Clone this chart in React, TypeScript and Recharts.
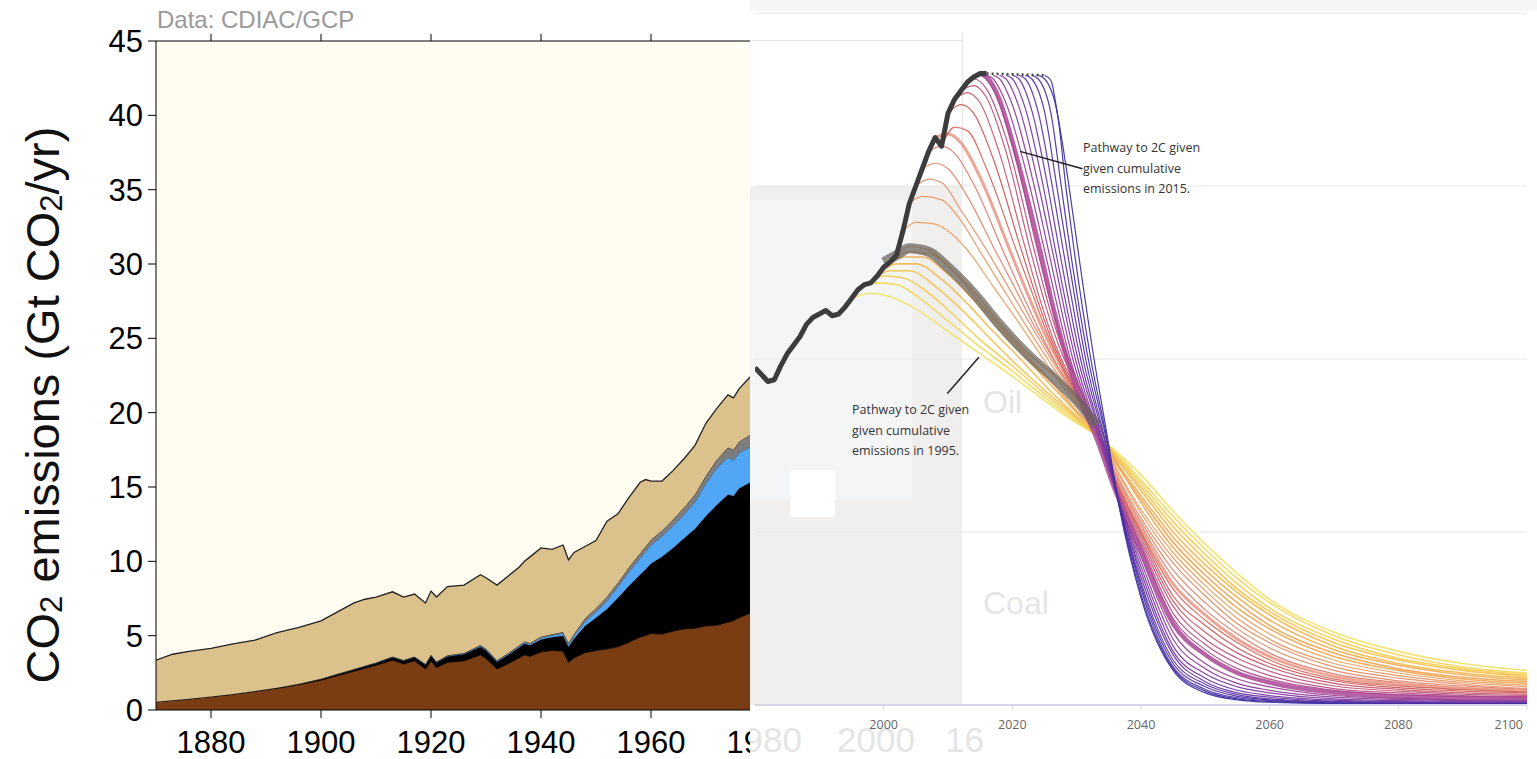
import React from 'react';
import {
  AreaChart,
  Area,
  LineChart,
  Line,
  XAxis,
  YAxis,
  CartesianGrid,
  ReferenceLine,
  Label,
} from 'recharts';

// ---- left panel: CO2 emissions by source (Gt CO2/yr), CDIAC/GCP ----
const years = [
  1870, 1873, 1876, 1880, 1884, 1888, 1892, 1896, 1900, 1903, 1906, 1908, 1910,
  1913, 1915, 1917, 1919, 1920, 1921, 1923, 1926, 1929, 1930, 1932, 1934, 1936,
  1937, 1938, 1940, 1942, 1944, 1945, 1946, 1948, 1950, 1952, 1954, 1956, 1958,
  1959, 1960, 1962, 1964, 1966, 1968, 1970, 1972, 1974, 1975, 1976, 1978, 1980,
];
const coal = [
  0.55, 0.65, 0.75, 0.9, 1.05, 1.25, 1.45, 1.7, 2.0, 2.3, 2.6, 2.8, 3.0, 3.35,
  3.1, 3.3, 2.75, 3.3, 2.85, 3.2, 3.3, 3.7, 3.45, 2.75, 3.1, 3.5, 3.7, 3.6, 3.9,
  4.0, 3.95, 3.2, 3.5, 3.85, 4.0, 4.1, 4.25, 4.55, 4.9, 5.0, 5.15, 5.1, 5.3,
  5.45, 5.5, 5.65, 5.7, 5.9, 6.0, 6.2, 6.5, 6.8,
];
const oil = [
  0, 0, 0, 0.01, 0.02, 0.03, 0.04, 0.05, 0.08, 0.1, 0.12, 0.14, 0.15, 0.2, 0.22,
  0.25, 0.3, 0.35, 0.35, 0.4, 0.45, 0.55, 0.55, 0.5, 0.6, 0.7, 0.75, 0.75, 0.85,
  0.9, 1.05, 1.05, 1.3, 1.8, 2.2, 2.7, 3.3, 3.8, 4.2, 4.45, 4.7, 5.2, 5.6, 6.1,
  6.7, 7.4, 8.1, 8.6, 8.4, 8.7, 8.8, 8.9,
];
const gas = [
  0, 0, 0, 0, 0, 0, 0, 0, 0.01, 0.01, 0.01, 0.02, 0.02, 0.02, 0.02, 0.02, 0.02,
  0.03, 0.03, 0.04, 0.05, 0.07, 0.07, 0.06, 0.07, 0.08, 0.09, 0.09, 0.1, 0.12,
  0.15, 0.15, 0.2, 0.3, 0.4, 0.55, 0.75, 0.95, 1.1, 1.2, 1.25, 1.4, 1.5, 1.6,
  1.8, 2.2, 2.5, 2.5, 2.4, 2.4, 2.4, 2.5,
];
const flaring = [
  0, 0, 0, 0, 0, 0, 0.01, 0.01, 0.01, 0.02, 0.02, 0.02, 0.02, 0.03, 0.03, 0.03,
  0.03, 0.03, 0.03, 0.04, 0.04, 0.05, 0.05, 0.04, 0.05, 0.06, 0.07, 0.07, 0.08,
  0.08, 0.1, 0.1, 0.12, 0.2, 0.25, 0.27, 0.28, 0.3, 0.32, 0.33, 0.35, 0.38, 0.42,
  0.45, 0.5, 0.5, 0.55, 0.65, 0.7, 0.75, 0.8, 0.85,
];
const landUse = [
  2.8, 3.1, 3.2, 3.24, 3.38, 3.42, 3.7, 3.79, 3.9, 4.17, 4.45, 4.47, 4.41, 4.35,
  4.23, 4.2, 4.1, 4.29, 4.34, 4.62, 4.56, 4.73, 4.78, 5.05, 5.18, 5.26, 5.39,
  5.79, 5.97, 5.7, 5.85, 5.6, 5.48, 4.85, 4.55, 5.08, 4.62, 4.7, 4.78, 4.52,
  3.95, 3.32, 3.28, 3.3, 3.3, 3.55, 3.45, 3.55, 3.5, 3.55, 3.9, 3.95,
];
const leftTicks = [1880, 1900, 1920, 1940, 1960, 1980, 2000];
const leftYTicks = [0, 5, 10, 15, 20, 25, 30, 35, 40, 45];

// ---- right panel: fossil CO2 and 2C pathways (Gt CO2/yr) ----
const histYears = [
  1980, 1981, 1982, 1983, 1984, 1985, 1986, 1987, 1988, 1989, 1990, 1991, 1992,
  1993, 1994, 1995, 1996, 1997, 1998, 1999, 2000, 2001, 2002, 2003, 2004, 2005,
  2006, 2007, 2008, 2009, 2010, 2011, 2012, 2013, 2014, 2015, 2016,
];
const histValues = [
  19.5, 19.1, 18.7, 18.8, 19.6, 20.3, 20.8, 21.3, 22.0, 22.4, 22.6, 22.8, 22.5,
  22.6, 23.0, 23.5, 24.0, 24.3, 24.4, 24.8, 25.3, 25.6, 26.0, 27.4, 29.0, 30.0,
  31.0, 32.0, 32.8, 32.3, 34.2, 35.0, 35.5, 36.0, 36.3, 36.5, 36.5,
];
const plateauYears = [2016, 2025];
const plateauValues = [36.5, 36.4];

const pathwayStarts = [
  1995, 1996, 1997, 1998, 1999, 2000, 2001, 2002, 2003, 2004, 2005, 2006, 2007,
  2008, 2009, 2010, 2011, 2012, 2013, 2014, 2015, 2016, 2017, 2018, 2019, 2020,
  2021, 2022, 2023, 2024, 2025,
];

// each pathway until 2036, as [year, value]
const pathwayEarly: number[][][] = [
  [[1995, 23.5], [1998, 23.8], [2001, 23.6], [2005, 22.9], [2010, 21.6], [2015, 20.3], [2020, 19.0], [2025, 17.6], [2030, 16.3], [2033, 15.6], [2036, 14.7]],
  [[1996, 24.0], [1999, 24.4], [2002, 24.3], [2006, 23.4], [2010, 22.2], [2015, 20.7], [2020, 19.3], [2025, 17.8], [2030, 16.4], [2033, 15.6], [2036, 14.6]],
  [[1997, 24.3], [2000, 24.8], [2003, 24.7], [2007, 23.8], [2011, 22.5], [2015, 21.1], [2020, 19.6], [2025, 18.0], [2030, 16.5], [2033, 15.6], [2036, 14.5]],
  [[1998, 24.4], [2001, 25.1], [2004, 25.1], [2008, 24.2], [2012, 22.9], [2016, 21.4], [2020, 19.9], [2025, 18.2], [2030, 16.6], [2033, 15.6], [2036, 14.4]],
  [[1999, 24.8], [2002, 25.5], [2005, 25.5], [2009, 24.6], [2013, 23.2], [2017, 21.6], [2021, 20.1], [2025, 18.5], [2030, 16.7], [2033, 15.7], [2036, 14.3]],
  [[2000, 25.3], [2003, 25.9], [2006, 25.9], [2010, 24.9], [2014, 23.4], [2018, 21.7], [2022, 20.1], [2026, 18.5], [2030, 16.9], [2033, 15.7], [2036, 14.1]],
  [[2001, 25.6], [2004, 26.2], [2007, 26.1], [2011, 25.0], [2015, 23.2], [2019, 21.5], [2023, 19.9], [2027, 18.3], [2030, 17.0], [2033, 15.8], [2036, 14.0]],
  [[2002, 26.0], [2004, 26.5], [2007, 26.3], [2010, 25.4], [2014, 23.9], [2018, 22.1], [2022, 20.5], [2027, 18.9], [2030, 17.8], [2033, 16.5], [2036, 14.2]],
  [[2003, 27.4], [2005, 27.9], [2008, 27.8], [2010, 27.4], [2013, 26.3], [2017, 24.2], [2021, 22.1], [2025, 19.9], [2029, 17.8], [2033, 15.9], [2036, 13.8]],
  [[2004, 29.0], [2006, 29.4], [2009, 29.2], [2012, 28.0], [2015, 26.2], [2018, 24.4], [2022, 22.0], [2025.5, 20.0], [2029, 18.0], [2033, 15.9], [2036, 13.7]],
  [[2005, 30.0], [2007, 30.4], [2009, 30.2], [2012, 28.6], [2016, 26.3], [2019, 24.4], [2022, 22.5], [2026, 20.0], [2029, 18.2], [2033, 15.9], [2036, 13.5]],
  [[2006, 31.0], [2008, 31.3], [2010, 31.0], [2013, 29.4], [2017.3, 26.3], [2020, 24.4], [2023, 22.2], [2026.5, 19.9], [2030, 17.8], [2033, 16.0], [2036, 13.4]],
  [[2007, 32.0], [2009, 32.3], [2011, 31.9], [2014, 30.1], [2018.5, 26.3], [2021, 24.2], [2024, 21.8], [2027, 19.6], [2030, 17.8], [2033, 16.0], [2036, 13.3]],
  [[2008, 32.8], [2010, 33.0], [2012, 32.5], [2015, 30.5], [2019.6, 26.3], [2022, 24.1], [2025, 21.5], [2027.5, 19.6], [2030, 17.9], [2033, 16.0], [2036, 13.2]],
  [[2009, 32.3], [2011, 33.4], [2013, 33.2], [2016, 31.0], [2020.6, 26.3], [2023, 23.9], [2025.5, 21.4], [2028, 19.3], [2030.5, 17.6], [2033, 16.1], [2036, 13.1]],
  [[2010, 34.2], [2012, 34.7], [2014, 34.2], [2017, 31.6], [2021.4, 26.3], [2024, 23.3], [2026, 21.2], [2028, 19.5], [2030.5, 17.7], [2033, 16.1], [2036, 13.0]],
  [[2011, 35.0], [2013, 35.4], [2015, 34.8], [2018, 31.9], [2022.1, 26.3], [2024.5, 23.2], [2026.5, 21.0], [2028.5, 19.3], [2031, 17.4], [2033, 16.2], [2036, 12.9]],
  [[2012, 35.5], [2014, 35.8], [2016, 35.1], [2019, 32.0], [2022.8, 26.3], [2025, 23.3], [2027, 21.0], [2029, 19.2], [2031, 17.5], [2033, 16.2], [2036, 12.8]],
  [[2013, 36.0], [2014, 36.2], [2016, 35.6], [2019, 32.8], [2023.4, 26.3], [2025.5, 23.3], [2027.5, 20.9], [2029.5, 19.1], [2031.5, 17.3], [2033, 16.2], [2036, 12.7]],
  [[2014, 36.3], [2015, 36.4], [2017, 35.6], [2020, 32.4], [2023.9, 26.3], [2026, 23.2], [2028, 20.7], [2030, 18.8], [2033, 16.0], [2036, 12.6]],
  [[2015, 36.5], [2016, 36.3], [2018, 35.0], [2020, 32.6], [2022, 29.8], [2024.3, 26.3], [2026.4, 22.9], [2028.5, 20.0], [2030.5, 17.7], [2033, 15.5], [2036, 12.4]],
  [[2016, 36.4], [2017, 36.2], [2019, 34.8], [2022.7, 30.0], [2025.0, 26.3], [2029.0, 20.0], [2033.7, 15.0], [2036, 12.4]],
  [[2017, 36.4], [2018, 36.2], [2020, 34.7], [2023.4, 30.0], [2025.6, 26.3], [2029.4, 20.0], [2033.9, 15.0], [2036, 12.5]],
  [[2018, 36.4], [2019, 36.2], [2021, 34.6], [2024.1, 30.0], [2026.2, 26.3], [2029.8, 20.0], [2034.0, 15.0], [2036, 12.5]],
  [[2019, 36.4], [2020, 36.2], [2022, 34.5], [2024.8, 30.0], [2026.7, 26.3], [2030.2, 20.0], [2034.2, 15.0], [2036, 12.5]],
  [[2020, 36.4], [2021, 36.2], [2023, 34.4], [2025.5, 30.0], [2027.3, 26.3], [2030.6, 20.0], [2034.3, 15.0], [2036, 12.6]],
  [[2021, 36.4], [2022, 36.2], [2024, 34.3], [2026.2, 30.0], [2027.9, 26.3], [2031.0, 20.0], [2034.5, 15.0], [2036, 12.6]],
  [[2022, 36.4], [2023, 36.2], [2025, 34.3], [2026.9, 30.0], [2028.5, 26.3], [2031.4, 20.0], [2034.6, 15.0], [2036, 12.6]],
  [[2023, 36.4], [2024, 36.2], [2026, 34.2], [2027.6, 30.0], [2029.0, 26.3], [2031.8, 20.0], [2034.8, 15.0], [2036, 12.7]],
  [[2024, 36.4], [2025, 36.2], [2027, 34.2], [2028.3, 30.0], [2029.6, 26.3], [2032.2, 20.0], [2034.9, 15.0], [2036, 12.7]],
  [[2025, 36.4], [2026, 36.1], [2027, 34.2], [2028.8, 30.0], [2030.2, 26.3], [2032.7, 20.0], [2035.0, 15.0], [2036, 12.7]],
];

const tailYears = [2040, 2045, 2050, 2055, 2060, 2070, 2080, 2090, 2100];
const pathwayTails = [
  [13.3, 11.2, 9.3, 7.6, 6.1, 4.2, 3.1, 2.4, 2.0],
  [13.0, 10.9, 9.0, 7.3, 5.9, 4.0, 2.9, 2.2, 1.85],
  [12.8, 10.6, 8.7, 7.0, 5.6, 3.8, 2.7, 2.1, 1.75],
  [12.6, 10.3, 8.4, 6.7, 5.4, 3.6, 2.6, 2.0, 1.65],
  [12.4, 10.0, 8.1, 6.5, 5.2, 3.4, 2.4, 1.85, 1.55],
  [12.1, 9.7, 7.8, 6.2, 4.9, 3.2, 2.3, 1.75, 1.45],
  [11.9, 9.4, 7.5, 5.9, 4.6, 3.0, 2.1, 1.6, 1.35],
  [11.7, 9.1, 7.2, 5.6, 4.4, 2.8, 2.0, 1.5, 1.25],
  [11.3, 8.8, 6.9, 5.3, 4.1, 2.6, 1.85, 1.4, 1.15],
  [11.1, 8.5, 6.6, 5.0, 3.8, 2.4, 1.7, 1.3, 1.05],
  [10.8, 8.2, 6.3, 4.7, 3.6, 2.2, 1.55, 1.2, 0.95],
  [10.6, 7.8, 5.9, 4.4, 3.3, 2.0, 1.4, 1.1, 0.9],
  [10.4, 7.4, 5.5, 4.1, 3.0, 1.8, 1.3, 1.0, 0.85],
  [10.2, 7.0, 5.2, 3.8, 2.8, 1.65, 1.2, 0.95, 0.8],
  [10.0, 6.7, 4.9, 3.6, 2.6, 1.5, 1.1, 0.9, 0.75],
  [9.9, 6.3, 4.6, 3.3, 2.4, 1.4, 1.0, 0.8, 0.7],
  [9.7, 6.0, 4.2, 3.0, 2.2, 1.25, 0.9, 0.7, 0.62],
  [9.5, 5.7, 3.8, 2.7, 1.95, 1.1, 0.8, 0.62, 0.55],
  [9.3, 5.3, 3.5, 2.4, 1.7, 0.95, 0.7, 0.55, 0.48],
  [9.1, 5.0, 3.2, 2.1, 1.5, 0.85, 0.6, 0.48, 0.42],
  [8.9, 4.7, 2.9, 1.85, 1.3, 0.72, 0.5, 0.4, 0.34],
  [8.6, 4.2, 2.4, 1.5, 1.05, 0.55, 0.4, 0.3, 0.28],
  [8.3, 3.8, 2.1, 1.25, 0.85, 0.45, 0.32, 0.25, 0.22],
  [8.0, 3.4, 1.8, 1.05, 0.7, 0.35, 0.25, 0.2, 0.18],
  [7.7, 3.1, 1.55, 0.85, 0.55, 0.28, 0.2, 0.16, 0.15],
  [7.4, 2.9, 1.35, 0.7, 0.45, 0.22, 0.16, 0.13, 0.12],
  [7.1, 2.6, 1.2, 0.6, 0.35, 0.18, 0.13, 0.1, 0.1],
  [6.9, 2.4, 1.05, 0.5, 0.3, 0.15, 0.1, 0.08, 0.08],
  [6.7, 2.2, 0.9, 0.42, 0.25, 0.12, 0.08, 0.07, 0.07],
  [6.4, 2.1, 0.8, 0.35, 0.2, 0.1, 0.07, 0.06, 0.06],
  [6.2, 2.0, 0.7, 0.3, 0.16, 0.08, 0.06, 0.05, 0.05],
];
// the 1995-emissions pathway is highlighted by a grey band up to the crossing
const bandYears = [2000, 2002, 2004, 2007, 2010, 2014, 2018, 2022, 2027, 2030, 2033];
const bandValues = [25.6, 26.0, 26.4, 26.2, 25.3, 23.8, 22.0, 20.4, 18.7, 17.6, 16.2];

const rightTicks = [1980, 2000, 2020, 2040, 2060, 2080, 2100];
const gridValues = [10, 20, 30, 40];

// line colours, yellow (early start) to indigo (late start)
const pathwayColors = [
  '#f2e36a', '#f3d95f', '#f4cf58', '#f5c553', '#f4bb54', '#f2b157', '#efa85b',
  '#eeac5c', '#eca060', '#e99763', '#e58e66', '#e1866a', '#dd7d6d', '#ec9a88',
  '#d46a5e', '#cc5a58', '#c9596e', '#c15478', '#b84f83', '#af4a8c', '#a94694',
  '#9b4199', '#8e3e9d', '#823ba0', '#7639a3', '#6b37a5', '#6035a6', '#5634a6',
  '#4d33a5', '#4532a3', '#3e31a0',
];

const leftData = years.map((year, i) => ({
  year,
  coal: coal[i],
  oil: oil[i],
  gas: gas[i],
  flaring: flaring[i],
  landUse: landUse[i],
}));

const histData = histYears.map((year, i) => ({ year, v: histValues[i] }));
const plateauData = plateauYears.map((year, i) => ({ year, v: plateauValues[i] }));
const bandData = bandYears.map((year, i) => ({ year, v: bandValues[i] }));

const pathways = pathwayStarts.map((start, i) => ({
  start,
  color: pathwayColors[i],
  data: [
    ...pathwayEarly[i],
    ...tailYears.map((y, j) => [y, pathwayTails[i][j]]),
  ].map(([year, v]) => ({ year, v })),
}));

const lineStyle = (start: number) => {
  if (start === 2015) return { width: 4.5, opacity: 0.85 };
  if (start === 2008) return { width: 3, opacity: 0.9 };
  if (start <= 2002) return { width: 1.6, opacity: 0.95 };
  return { width: 1.2, opacity: 0.95 };
};

const SANS = '"Liberation Sans", Arial, sans-serif';
const NOTE = '"Open Sans", "Noto Sans", sans-serif';

const renderYLabel = () => (
  <text
    x={42}
    y={405}
    transform="rotate(-90 42 405)"
    textAnchor="middle"
    dominantBaseline="central"
    fontFamily={SANS}
    fontSize={47}
    fill="#111"
  >
    <tspan>CO</tspan>
    <tspan fontSize={31} dy={9}>2</tspan>
    <tspan dy={-9}> emissions (Gt CO</tspan>
    <tspan fontSize={31} dy={9}>2</tspan>
    <tspan dy={-9}>/yr)</tspan>
  </text>
);

// right-panel year labels; the last one is pulled inside the frame
const RightTick = (props: any) => {
  const { x, y, payload } = props;
  const last = payload.value === 2100;
  return (
    <text
      x={last ? x + 2 : x}
      y={y}
      dy="0.71em"
      textAnchor={last ? 'end' : 'middle'}
      fill="#666"
      fontSize={12.5}
      fontFamily={NOTE}
    >
      {payload.value}
    </text>
  );
};

const noteStyle: React.CSSProperties = {
  position: 'absolute',
  fontFamily: NOTE,
  fontSize: 12.5,
  lineHeight: '20.5px',
  color: '#333',
  whiteSpace: 'nowrap',
};

const ghostText: React.CSSProperties = {
  position: 'absolute',
  fontFamily: SANS,
  color: '#e5e5e5',
  whiteSpace: 'nowrap',
  lineHeight: 1,
};

const App = () => {
  return (
    <div
      style={{
        position: 'absolute',
        left: 0,
        top: 0,
        width: 1537,
        height: 759,
        background: '#fff',
        overflow: 'hidden',
        fontFamily: SANS,
      }}
    >
      {/* faded remains of the previous frame */}
      <div style={{ position: 'absolute', left: 750, top: 0, width: 787, height: 11, background: '#f6f6f6' }} />
      <div style={{ position: 'absolute', left: 750, top: 186, width: 212, height: 519, background: '#f1efed' }} />
      <div style={{ position: 'absolute', left: 750, top: 200, width: 162, height: 300, background: '#f4f5f7' }} />
      <div style={{ position: 'absolute', left: 790, top: 470, width: 45, height: 47, background: '#fff' }} />
      <div style={{ position: 'absolute', left: 750, top: 40, width: 212, height: 1, background: '#e4e4e4' }} />
      <div style={{ position: 'absolute', left: 962, top: 33, width: 1, height: 152, background: '#e4e4e4' }} />
      <span style={{ ...ghostText, left: 983, top: 386, fontSize: 32 }}>Oil</span>
      <span style={{ ...ghostText, left: 983, top: 587, fontSize: 32 }}>Coal</span>
      <span style={{ ...ghostText, left: 724, top: 722, fontSize: 35 }}>1980</span>
      <span style={{ ...ghostText, left: 837, top: 722, fontSize: 35 }}>2000</span>
      <span style={{ ...ghostText, left: 945, top: 722, fontSize: 35 }}>16</span>

      <div style={{ position: 'absolute', left: 740, top: 0 }}>
        <LineChart width={797} height={759} margin={{ top: 13, right: 10, bottom: 24, left: 15 }}>
          <XAxis
            dataKey="year"
            type="number"
            domain={[1980, 2100]}
            ticks={rightTicks}
            allowDataOverflow
            height={30}
            tickSize={5}
            tickMargin={10}
            axisLine={{ stroke: '#d6d4e6', strokeWidth: 2 }}
            tickLine={{ stroke: '#d6d4e6' }}
            tick={<RightTick />}
          />
          <YAxis hide type="number" domain={[0, 40]} />
          {gridValues.map((g) => (
            <ReferenceLine key={g} y={g} stroke="#e6e6e6" strokeWidth={1} />
          ))}
          {pathways.map((p) => {
            const s = lineStyle(p.start);
            return (
              <Line
                key={p.start}
                data={p.data}
                dataKey="v"
                type="monotone"
                stroke={p.color}
                strokeWidth={s.width}
                strokeOpacity={s.opacity}
                dot={false}
                isAnimationActive={false}
              />
            );
          })}
          <Line
            data={bandData}
            dataKey="v"
            type="monotone"
            stroke="#66625e"
            strokeWidth={10}
            strokeOpacity={0.72}
            dot={false}
            isAnimationActive={false}
          />
          <Line
            data={plateauData}
            dataKey="v"
            type="linear"
            stroke="#444"
            strokeWidth={2.5}
            strokeDasharray="2 3"
            dot={false}
            isAnimationActive={false}
          />
          <Line
            data={histData}
            dataKey="v"
            type="linear"
            stroke="#3c3c3c"
            strokeWidth={5}
            strokeLinejoin="round"
            dot={false}
            isAnimationActive={false}
          />
          <ReferenceLine
            segment={[{ x: 2021.2, y: 32.0 }, { x: 2030.9, y: 31.0 }]}
            stroke="#222"
            strokeWidth={1.5}
          />
          <ReferenceLine
            segment={[{ x: 2009.9, y: 18.0 }, { x: 2014.8, y: 20.1 }]}
            stroke="#222"
            strokeWidth={1.5}
          />
        </LineChart>
      </div>

      <div style={{ ...noteStyle, left: 1083, top: 138 }}>
        Pathway to 2C given
        <br />
        given cumulative
        <br />
        emissions in 2015.
      </div>
      <div style={{ ...noteStyle, left: 852, top: 400 }}>
        Pathway to 2C given
        <br />
        given cumulative
        <br />
        emissions in 1995.
      </div>

      {/* left panel on top, cut at the frame edge */}
      <div
        style={{
          position: 'absolute',
          left: 0,
          top: 0,
          width: 750,
          height: 759,
          overflow: 'hidden',
          background: '#fff',
        }}
      >
        <AreaChart width={930} height={759} data={leftData} margin={{ top: 0, right: 4, bottom: 0, left: 0 }}>
          <CartesianGrid fill="#fffdf2" stroke="none" horizontal={false} vertical={false} />
          <XAxis
            dataKey="year"
            type="number"
            domain={[1870, 2010]}
            ticks={leftTicks}
            allowDataOverflow
            height={49}
            tickSize={8}
            tickMargin={13}
            axisLine={{ stroke: '#000' }}
            tickLine={{ stroke: '#000' }}
            tick={{ fill: '#000', fontSize: 31, fontFamily: SANS }}
          />
          <XAxis
            xAxisId="top"
            orientation="top"
            dataKey="year"
            type="number"
            domain={[1870, 2010]}
            ticks={leftTicks}
            allowDataOverflow
            height={41}
            tickSize={7}
            tickFormatter={() => ''}
            axisLine={{ stroke: '#000' }}
            tickLine={{ stroke: '#000' }}
          />
          <YAxis
            type="number"
            domain={[0, 45]}
            ticks={leftYTicks}
            width={156}
            tickSize={8}
            tickMargin={5}
            axisLine={{ stroke: '#000' }}
            tickLine={{ stroke: '#000' }}
            tick={{ fill: '#000', fontSize: 31, fontFamily: SANS }}
          >
            <Label content={renderYLabel} />
          </YAxis>
          <Area stackId="s" dataKey="coal" type="linear" fill="#7a3d13" fillOpacity={1} stroke="#2a1508" strokeWidth={1} isAnimationActive={false} />
          <Area stackId="s" dataKey="oil" type="linear" fill="#000" fillOpacity={1} stroke="#000" strokeWidth={1} isAnimationActive={false} />
          <Area stackId="s" dataKey="gas" type="linear" fill="#51a7f5" fillOpacity={1} stroke="#1e3a55" strokeWidth={0.8} isAnimationActive={false} />
          <Area stackId="s" dataKey="flaring" type="linear" fill="#7d7d7d" fillOpacity={1} stroke="#222" strokeWidth={1} isAnimationActive={false} />
          <Area stackId="s" dataKey="landUse" type="linear" fill="#dbc18c" fillOpacity={1} stroke="#222" strokeWidth={1.3} isAnimationActive={false} />
        </AreaChart>
        <div
          style={{
            position: 'absolute',
            left: 157,
            top: 6,
            fontFamily: SANS,
            fontSize: 24,
            lineHeight: '28px',
            color: '#9a9a9a',
            whiteSpace: 'nowrap',
          }}
        >
          Data: CDIAC/GCP
        </div>
      </div>
    </div>
  );
};

export default App;
